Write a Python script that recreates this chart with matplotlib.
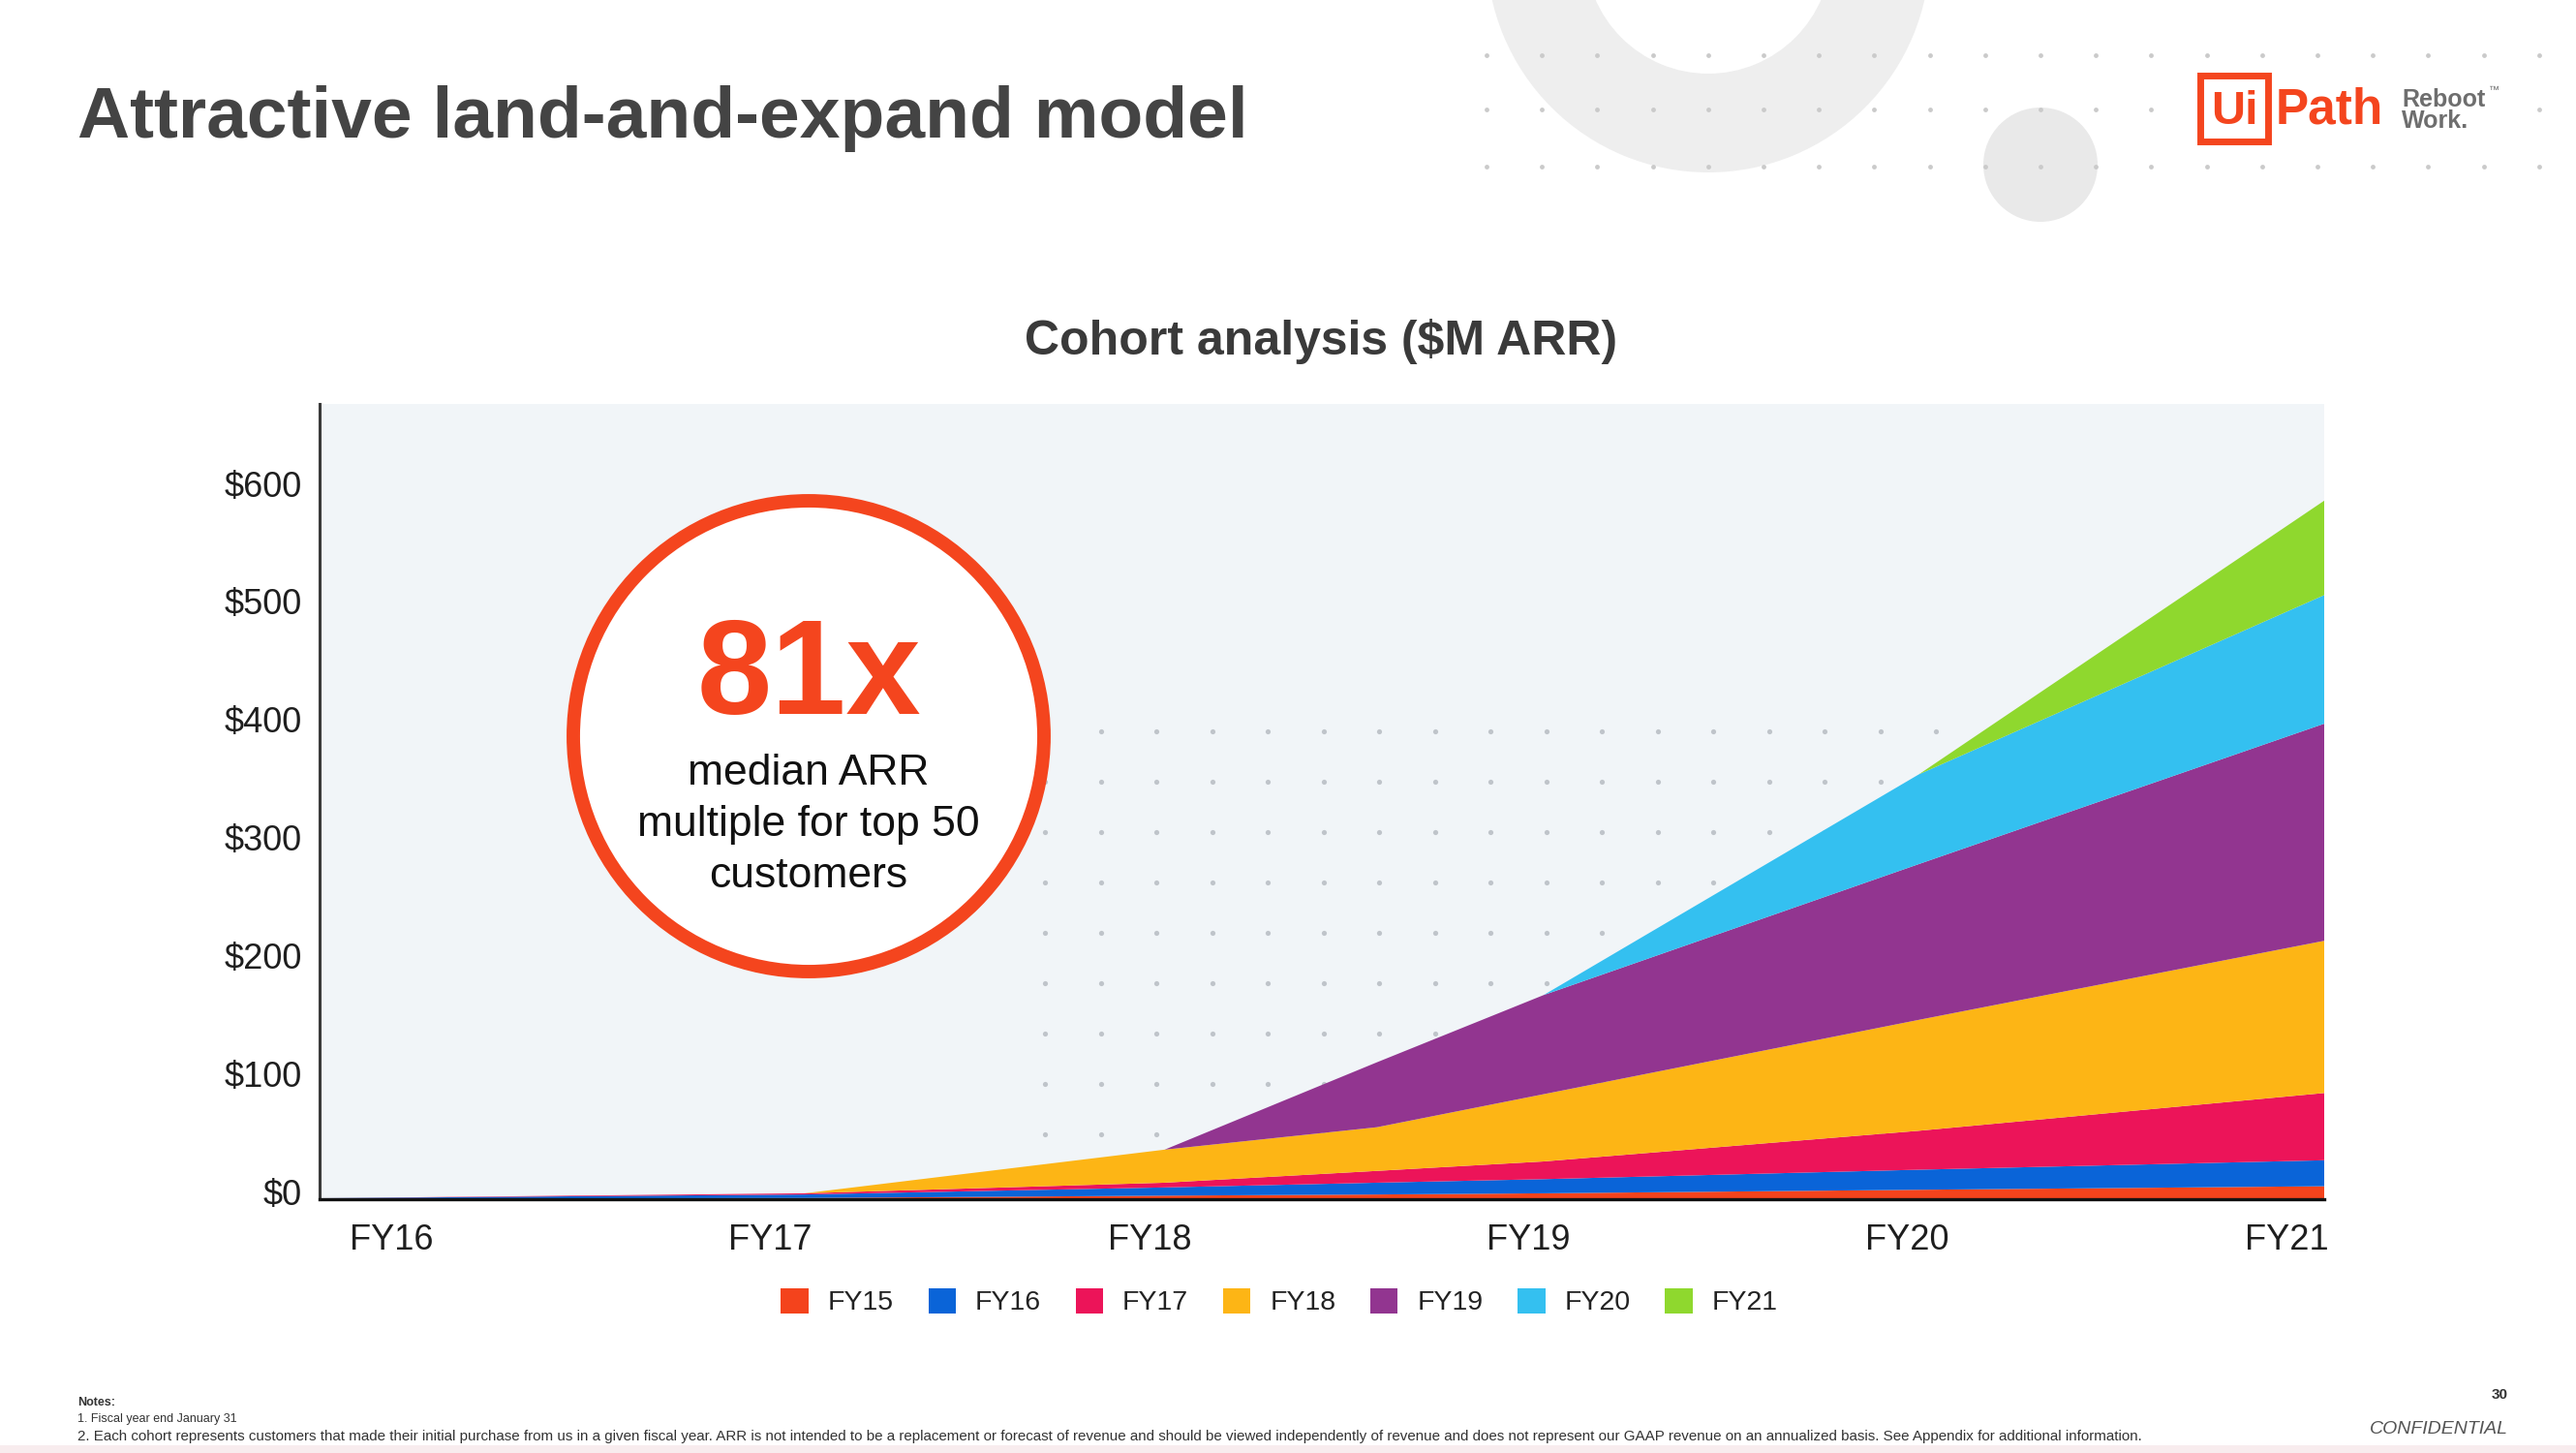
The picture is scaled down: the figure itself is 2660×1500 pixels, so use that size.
import numpy as np
import matplotlib
matplotlib.use('Agg')
import matplotlib.pyplot as plt
from matplotlib.patches import Patch, Circle, Rectangle, Wedge
from matplotlib.transforms import ScaledTranslation

plt.rcParams['font.family'] = ['Liberation Sans', 'DejaVu Sans']

# ---------------- data ----------------
cohorts = ['FY15', 'FY16', 'FY17', 'FY18', 'FY19', 'FY20', 'FY21']
time_points = [15.81, 17.09, 18.04, 18.60, 19.04, 20.03, 21.10]
fy15 = [0.5, 1, 3, 4, 5, 8, 11]
fy16 = [0.3, 3, 7, 10, 12, 17, 22]
fy17 = [0, 1, 4, 10, 15, 33, 57]
fy18 = [0, 0, 28, 37, 57, 94, 129]
fy19 = [0, 0, 0, 55, 84, 132, 184]
fy20 = [0, 0, 0, 0, 0, 76, 109]
fy21 = [0, 0, 0, 0, 0, 0, 80]
x_ticks = [16, 17, 18, 19, 20, 21]
x_tick_labels = ['FY16', 'FY17', 'FY18', 'FY19', 'FY20', 'FY21']
y_ticks = [0, 100, 200, 300, 400, 500, 600]
y_tick_labels = ['$0', '$100', '$200', '$300', '$400', '$500', '$600']
colors = ['#F4431C', '#0A64D8', '#EC1459', '#FDB515', '#923590', '#34C0F0', '#8FD82E']

W, H = 2660, 1500
fig = plt.figure(figsize=(W / 100, H / 100), dpi=100)
fig.patch.set_facecolor('white')

# background decoration layer (pixel coordinates)
bg = fig.add_axes([0, 0, 1, 1], zorder=0)
bg.set_xlim(0, W); bg.set_ylim(H, 0); bg.axis('off')
bg.add_patch(Wedge((1764, -51), 229, 0, 360, width=102, color='#EEEEEE', lw=0))
bg.add_patch(Circle((2107, 170), 59, color='#E9E9E9', lw=0))
dx = np.arange(1535, 2640, 57.2)
for yy in [57, 113, 172]:
    xs = dx if yy != 113 else dx[(dx < 2250) | (dx > 2600)]
    bg.scatter(xs, np.full(len(xs), yy), s=12, color='#CACACA', lw=0)
bg.add_patch(Rectangle((0, 1492), W, 8, color='#F8ECEE', lw=0))

# chart
ax = fig.add_axes([330 / W, 1 - 1238 / H, (2400 - 330) / W, (1238 - 417) / H], zorder=1)
ax.set_facecolor('#F1F5F8')
gx = np.arange(1079, 2000, 57.5)
gy = np.arange(755, 1190, 52)
GX, GY = np.meshgrid(gx, gy)
ax.scatter(GX.ravel(), GY.ravel(), s=14, color='#BFC4CA', lw=0, transform=bg.transData, zorder=0.5)

ax.stackplot(time_points, fy15, fy16, fy17, fy18, fy19, fy20, fy21,
             colors=colors, labels=cohorts, lw=0, zorder=2)
ax.set_xlim(15.81, 21.10)
ax.set_ylim(0, 674)
ax.set_xticks(x_ticks)
ax.set_xticklabels(x_tick_labels)
ax.set_yticks(y_ticks)
ax.set_yticklabels(y_tick_labels)
ax.tick_params(axis='both', length=0, labelsize=26, colors='#1E1E1E')
ax.tick_params(axis='y', pad=13)
ax.tick_params(axis='x', pad=18)
for s in ['top', 'right']:
    ax.spines[s].set_visible(False)
ax.spines['left'].set_color('#3A3A3A'); ax.spines['left'].set_linewidth(2.2)
ax.spines['bottom'].set_color('#111111'); ax.spines['bottom'].set_linewidth(2.4)
ax.spines['left'].set_zorder(3); ax.spines['bottom'].set_zorder(3)
for lbl in ax.get_yticklabels():
    lbl.set_transform(lbl.get_transform() + ScaledTranslation(0, 8 / 100, fig.dpi_scale_trans))

handles = [Patch(facecolor=c, edgecolor='none') for c in colors]
fig.legend(handles, cohorts, loc='center', bbox_to_anchor=(1321 / W, 1 - 1344 / H), ncol=7,
           frameon=False, fontsize=20.5, handlelength=1.0, handleheight=1.05,
           handletextpad=0.7, columnspacing=1.25, labelcolor='#222222')

# foreground layer
fg = fig.add_axes([0, 0, 1, 1], zorder=3)
fg.set_xlim(0, W); fg.set_ylim(H, 0); fg.axis('off')
fg.add_patch(Circle((835, 760), 243, facecolor='white', edgecolor='#F4451E', lw=10))
fg.text(835, 737, '81x', ha='center', va='baseline', fontsize=100, fontweight='bold', color='#F4451E')
for txt, yb in [('median ARR', 810), ('multiple for top 50', 863), ('customers', 916)]:
    fg.text(835, yb, txt, ha='center', va='baseline', fontsize=32, color='#111111')

# titles
fg.text(80, 142, 'Attractive land-and-expand model', ha='left', va='baseline',
        fontsize=54, fontweight='bold', color='#444444')
fg.text(1364, 366, 'Cohort analysis ($M ARR)', ha='center', va='baseline',
        fontsize=36, fontweight='bold', color='#3A3A3A')

# logo
fg.add_patch(Rectangle((2272, 78), 70, 68, facecolor='white', edgecolor='#F4451E', lw=5))
fg.text(2307, 128, 'Ui', ha='center', va='baseline', fontsize=35, fontweight='bold', color='#F4451E')
fg.text(2350, 128, 'Path', ha='left', va='baseline', fontsize=37, fontweight='bold', color='#F4451E')
fg.text(2480, 110, 'Reboot', ha='left', va='baseline', fontsize=18, fontweight='bold', color='#6E6E6E')
fg.text(2480, 132, 'Work.', ha='left', va='baseline', fontsize=18, fontweight='bold', color='#6E6E6E')
fg.text(2570, 96, '™', ha='left', va='baseline', fontsize=8, color='#6E6E6E')

# notes
fg.text(80, 1451, 'Notes:', ha='left', va='baseline', fontsize=9, fontweight='bold', color='#333333')
fg.text(80, 1468, '1. Fiscal year end January 31', ha='left', va='baseline', fontsize=9, color='#333333')
fg.text(80, 1487, '2. Each cohort represents customers that made their initial purchase from us in a given fiscal year. '
        'ARR is not intended to be a replacement or forecast of revenue and should be viewed independently of revenue '
        'and does not represent our GAAP revenue on an annualized basis. See Appendix for additional information.',
        ha='left', va='baseline', fontsize=10.9, color='#333333')
fg.text(2590, 1444, '30', ha='right', va='baseline', fontsize=11, fontweight='bold', color='#333333')
fg.text(2590, 1480, 'CONFIDENTIAL', ha='right', va='baseline', fontsize=14, style='italic', color='#555555')

fig.savefig('out.png', dpi=100, facecolor='white')
